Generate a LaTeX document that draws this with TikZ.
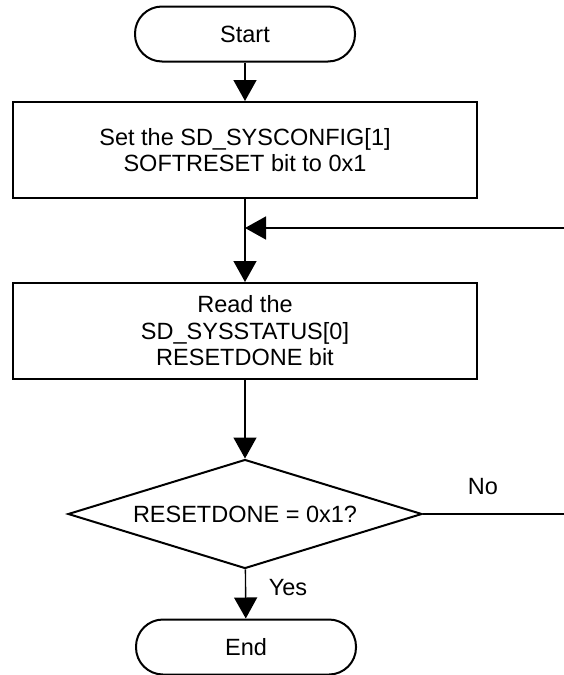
\documentclass[tikz,border=0pt]{standalone}
\usepackage{fontspec}
\setmainfont{Liberation Sans}
\usetikzlibrary{arrows.meta,shapes.geometric}
\begin{document}
\begin{tikzpicture}[x=1pt,y=-1pt,
  every node/.style={font=\fontsize{23.5}{26.5}\selectfont},
  term/.style={draw,line width=2pt,rounded corners=27pt,minimum width=220pt,minimum height=55pt,inner sep=0pt},
  procbox/.style={draw,line width=2pt,minimum width=464pt,minimum height=96pt,align=center,inner sep=0pt},
  decision/.style={draw,line width=2pt,diamond,aspect=3.25,minimum width=354pt,minimum height=109pt,inner sep=0pt},
  conn/.style={line width=1.4pt,-{Triangle[length=21pt,width=23pt]}},
  plain/.style={line width=1.4pt},
  lbl/.style={inner sep=0pt}]
\useasboundingbox (0,0) rectangle (564,675);
\node[term] (start) at (245,34) {Start};
\node[procbox] (set) at (245,150) {Set the SD\_SYSCONFIG[1]\\SOFTRESET bit to 0x1};
\node[procbox] (read) at (245,331) {Read the\\SD\_SYSSTATUS[0]\\RESETDONE bit};
\node[decision] (dec) at (245,514) {RESETDONE = 0x1?};
\node[term] (end) at (246,647) {End};
\coordinate (merge) at (245,228);
\coordinate (fb) at (564,228);
\coordinate (no) at (564,514);
\node[lbl] (nolbl) at (483,487) {No};
\node[lbl] (yeslbl) at (288,588) {Yes};
\draw[conn] (start) -- (set);
\draw[plain] (set) -- (merge);
\draw[conn] (merge) -- (read);
\draw[conn] (fb) -- (merge);
\draw[conn] (read) -- (dec);
\draw[plain] (dec.east) -- (no);
\draw[conn] (dec) -- (end);
\end{tikzpicture}
\end{document}
